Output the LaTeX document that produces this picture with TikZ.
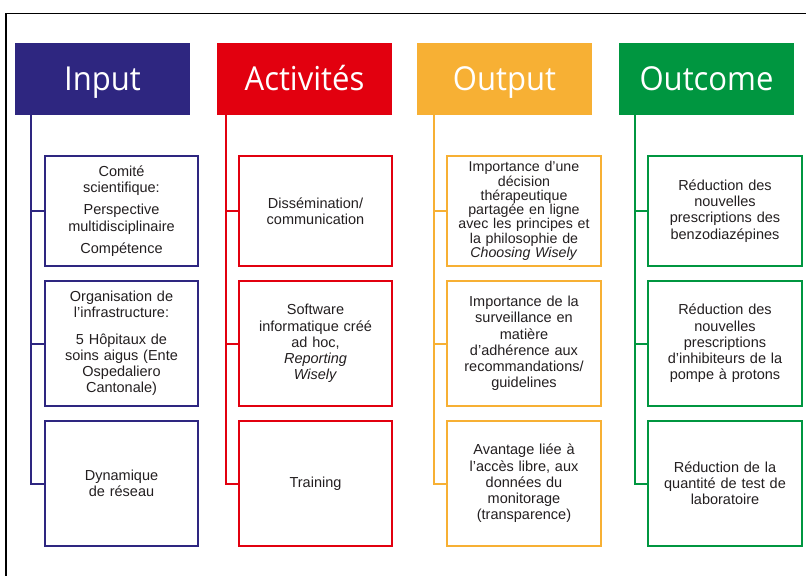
\documentclass[tikz,border=0pt]{standalone}
\usepackage{fontspec}
\setmainfont{Liberation Sans}
\newfontfamily\headfont[FakeStretch=0.94]{Open Sans}

\definecolor{inblue}{RGB}{46,38,128}
\definecolor{actred}{RGB}{226,0,15}
\definecolor{outyellow}{RGB}{247,176,52}
\definecolor{ocgreen}{RGB}{0,150,64}
\definecolor{boxtext}{RGB}{35,31,32}

\tikzset{
  head/.style={fill=#1, text=white, minimum width=175pt, minimum height=72pt,
    inner sep=0pt, text height=23.5pt, text depth=0pt,
    font=\headfont\fontsize{33}{33}\selectfont},
  item/.style={draw=#1, line width=1.6pt, fill=white, minimum width=153.5pt,
    text width=150pt, align=center, inner sep=0pt, text=boxtext,
    font=\fontsize{14.5}{16.2}\selectfont},
  spine/.style={draw=#1, line width=2pt},
  frame/.style={draw=black, line width=1.3pt}
}

\begin{document}
\begin{tikzpicture}[x=1pt,y=-1pt]
\useasboundingbox (0,0) rectangle (806,576);
\draw[frame] (806,13.5) -| (6,576);

% column heads
\node[head=inblue] (in) at (102.5,79) {Input};
\node[head=actred] (act) at (304.5,79) {Activités};
\node[head=outyellow] (out) at (504.5,79) {Output};
\node[head=ocgreen] (oc) at (706.5,79) {Outcome};

% Input
\node[item=inblue, minimum height=110.5pt] (in1) at (121.5,211)
  {Comité\\scientifique:\\[6pt]Perspective\\multidisciplinaire\\[6pt]Compétence};
\node[item=inblue, minimum height=125.5pt] (in2) at (121.5,343.5)
  {Organisation de\\l’infrastructure:\\[10pt]5 Hôpitaux de\\soins aigus (Ente\\Ospedaliero\\Cantonale)};
\node[item=inblue, minimum height=125.5pt] (in3) at (121.5,483.5)
  {Dynamique\\de réseau};

% Activités
\node[item=actred, minimum height=110.5pt] (act1) at (315.5,211)
  {Dissémination/\\communication};
\node[item=actred, minimum height=125.5pt] (act2) at (315.5,343.5)
  {Software\\informatique créé\\ad hoc,\\\textit{Reporting}\\\textit{Wisely}};
\node[item=actred, minimum height=125.5pt] (act3) at (315.5,483.5)
  {Training};

% Output
\node[item=outyellow, minimum height=110.5pt, font=\fontsize{14.2}{14.3}\selectfont] (out1) at (524,211)
  {Importance d’une\\décision\\thérapeutique\\partagée en ligne\\avec les principes et\\la philosophie de\\\textit{Choosing Wisely}};
\node[item=outyellow, minimum height=125.5pt] (out2) at (524,343.5)
  {Importance de la\\surveillance en\\matière\\d’adhérence aux\\recommandations/\\guidelines};
\node[item=outyellow, minimum height=125.5pt] (out3) at (524,483.5)
  {Avantage liée à\\l’accès libre, aux\\données du\\monitorage\\(transparence)};

% Outcome
\node[item=ocgreen, minimum height=110.5pt] (oc1) at (725,211)
  {Réduction des\\nouvelles\\prescriptions des\\benzodiazépines};
\node[item=ocgreen, minimum height=125.5pt] (oc2) at (725,343.5)
  {Réduction des\\nouvelles\\prescriptions\\d’inhibiteurs de la\\pompe à protons};
\node[item=ocgreen, minimum height=125.5pt] (oc3) at (725,483.5)
  {Réduction de la\\quantité de test de\\laboratoire};

% spines
\coordinate (inS) at (31,115);
\coordinate (actS) at (225.5,115);
\coordinate (outS) at (434,115);
\coordinate (ocS) at (635,115);

\draw[spine=inblue] (inS) |- (in3.west);
\draw[spine=inblue] (inS |- in1.west) -- (in1.west);
\draw[spine=inblue] (inS |- in2.west) -- (in2.west);

\draw[spine=actred] (actS) |- (act3.west);
\draw[spine=actred] (actS |- act1.west) -- (act1.west);
\draw[spine=actred] (actS |- act2.west) -- (act2.west);

\draw[spine=outyellow] (outS) |- (out3.west);
\draw[spine=outyellow] (outS |- out1.west) -- (out1.west);
\draw[spine=outyellow] (outS |- out2.west) -- (out2.west);

\draw[spine=ocgreen] (ocS) |- (oc3.west);
\draw[spine=ocgreen] (ocS |- oc1.west) -- (oc1.west);
\draw[spine=ocgreen] (ocS |- oc2.west) -- (oc2.west);
\end{tikzpicture}
\end{document}
